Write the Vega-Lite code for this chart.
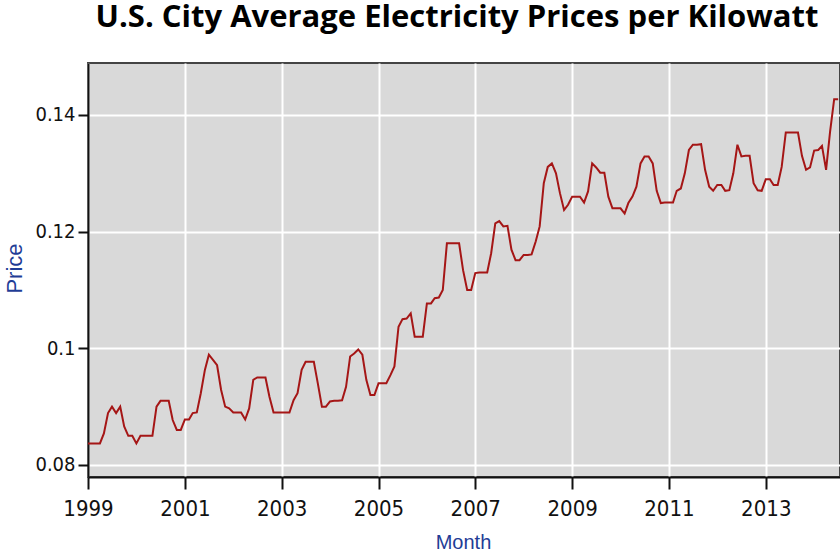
{
  "$schema": "https://vega.github.io/schema/vega-lite/v6.json",
  "autosize": {"type": "none"},
  "width": 752,
  "height": 414,
  "padding": {"left": 88, "top": 63, "right": 0, "bottom": 74},
  "background": "white",
  "title": {
    "text": "U.S. City Average Electricity Prices per Kilowatt",
    "font": "Open Sans",
    "fontSize": 31,
    "fontWeight": "bold",
    "color": "black",
    "anchor": "middle",
    "dx": -7,
    "baseline": "alphabetic",
    "offset": 35,
    "dy": 30
  },
  "config": {
    "view": {"fill": "#d9d9d9", "stroke": "#444444", "strokeWidth": 2},
    "axis": {
      "labelFont": "DejaVu Sans Condensed, sans-serif",
      "labelColor": "#111111",
      "titleFont": "Liberation Sans, sans-serif",
      "titleColor": "#1f3d96",
      "titleFontWeight": "normal",
      "domainColor": "#111111",
      "domainWidth": 2,
      "tickColor": "#111111",
      "tickWidth": 2,
      "gridColor": "#ffffff",
      "gridWidth": 2,
      "gridOpacity": 1
    }
  },
  "data": {
    "values": [
      {"Month": "1999-01-01", "Price": 0.0837}, {"Month": "1999-02-01", "Price": 0.0837}, {"Month": "1999-03-01", "Price": 0.0837}, {"Month": "1999-04-01", "Price": 0.0837},
      {"Month": "1999-05-01", "Price": 0.0854}, {"Month": "1999-06-01", "Price": 0.0889}, {"Month": "1999-07-01", "Price": 0.0900}, {"Month": "1999-08-01", "Price": 0.0889},
      {"Month": "1999-09-01", "Price": 0.0900}, {"Month": "1999-10-01", "Price": 0.0866}, {"Month": "1999-11-01", "Price": 0.0850}, {"Month": "1999-12-01", "Price": 0.0850},
      {"Month": "2000-01-01", "Price": 0.0837}, {"Month": "2000-02-01", "Price": 0.0850}, {"Month": "2000-03-01", "Price": 0.0850}, {"Month": "2000-04-01", "Price": 0.0850},
      {"Month": "2000-05-01", "Price": 0.0850}, {"Month": "2000-06-01", "Price": 0.0900}, {"Month": "2000-07-01", "Price": 0.0910}, {"Month": "2000-08-01", "Price": 0.0910},
      {"Month": "2000-09-01", "Price": 0.0910}, {"Month": "2000-10-01", "Price": 0.0877}, {"Month": "2000-11-01", "Price": 0.0860}, {"Month": "2000-12-01", "Price": 0.0860},
      {"Month": "2001-01-01", "Price": 0.0878}, {"Month": "2001-02-01", "Price": 0.0878}, {"Month": "2001-03-01", "Price": 0.0889}, {"Month": "2001-04-01", "Price": 0.0890},
      {"Month": "2001-05-01", "Price": 0.0923}, {"Month": "2001-06-01", "Price": 0.0963}, {"Month": "2001-07-01", "Price": 0.0989}, {"Month": "2001-08-01", "Price": 0.0980},
      {"Month": "2001-09-01", "Price": 0.0971}, {"Month": "2001-10-01", "Price": 0.0929}, {"Month": "2001-11-01", "Price": 0.0900}, {"Month": "2001-12-01", "Price": 0.0897},
      {"Month": "2002-01-01", "Price": 0.0890}, {"Month": "2002-02-01", "Price": 0.0890}, {"Month": "2002-03-01", "Price": 0.0890}, {"Month": "2002-04-01", "Price": 0.0878},
      {"Month": "2002-05-01", "Price": 0.0897}, {"Month": "2002-06-01", "Price": 0.0946}, {"Month": "2002-07-01", "Price": 0.0950}, {"Month": "2002-08-01", "Price": 0.0950},
      {"Month": "2002-09-01", "Price": 0.0950}, {"Month": "2002-10-01", "Price": 0.0917}, {"Month": "2002-11-01", "Price": 0.0890}, {"Month": "2002-12-01", "Price": 0.0890},
      {"Month": "2003-01-01", "Price": 0.0890}, {"Month": "2003-02-01", "Price": 0.0890}, {"Month": "2003-03-01", "Price": 0.0890}, {"Month": "2003-04-01", "Price": 0.0911},
      {"Month": "2003-05-01", "Price": 0.0923}, {"Month": "2003-06-01", "Price": 0.0963}, {"Month": "2003-07-01", "Price": 0.0977}, {"Month": "2003-08-01", "Price": 0.0977},
      {"Month": "2003-09-01", "Price": 0.0977}, {"Month": "2003-10-01", "Price": 0.0940}, {"Month": "2003-11-01", "Price": 0.0900}, {"Month": "2003-12-01", "Price": 0.0900},
      {"Month": "2004-01-01", "Price": 0.0909}, {"Month": "2004-02-01", "Price": 0.0910}, {"Month": "2004-03-01", "Price": 0.0910}, {"Month": "2004-04-01", "Price": 0.0911},
      {"Month": "2004-05-01", "Price": 0.0934}, {"Month": "2004-06-01", "Price": 0.0986}, {"Month": "2004-07-01", "Price": 0.0991}, {"Month": "2004-08-01", "Price": 0.0998},
      {"Month": "2004-09-01", "Price": 0.0989}, {"Month": "2004-10-01", "Price": 0.0946}, {"Month": "2004-11-01", "Price": 0.0920}, {"Month": "2004-12-01", "Price": 0.0920},
      {"Month": "2005-01-01", "Price": 0.0940}, {"Month": "2005-02-01", "Price": 0.0940}, {"Month": "2005-03-01", "Price": 0.0940}, {"Month": "2005-04-01", "Price": 0.0954},
      {"Month": "2005-05-01", "Price": 0.0969}, {"Month": "2005-06-01", "Price": 0.1037}, {"Month": "2005-07-01", "Price": 0.1050}, {"Month": "2005-08-01", "Price": 0.1051},
      {"Month": "2005-09-01", "Price": 0.1060}, {"Month": "2005-10-01", "Price": 0.1020}, {"Month": "2005-11-01", "Price": 0.1020}, {"Month": "2005-12-01", "Price": 0.1020},
      {"Month": "2006-01-01", "Price": 0.1077}, {"Month": "2006-02-01", "Price": 0.1077}, {"Month": "2006-03-01", "Price": 0.1086}, {"Month": "2006-04-01", "Price": 0.1087},
      {"Month": "2006-05-01", "Price": 0.1100}, {"Month": "2006-06-01", "Price": 0.1180}, {"Month": "2006-07-01", "Price": 0.1180}, {"Month": "2006-08-01", "Price": 0.1180},
      {"Month": "2006-09-01", "Price": 0.1180}, {"Month": "2006-10-01", "Price": 0.1134}, {"Month": "2006-11-01", "Price": 0.1100}, {"Month": "2006-12-01", "Price": 0.1100},
      {"Month": "2007-01-01", "Price": 0.1129}, {"Month": "2007-02-01", "Price": 0.1130}, {"Month": "2007-03-01", "Price": 0.1130}, {"Month": "2007-04-01", "Price": 0.1130},
      {"Month": "2007-05-01", "Price": 0.1163}, {"Month": "2007-06-01", "Price": 0.1214}, {"Month": "2007-07-01", "Price": 0.1218}, {"Month": "2007-08-01", "Price": 0.1209},
      {"Month": "2007-09-01", "Price": 0.1210}, {"Month": "2007-10-01", "Price": 0.1169}, {"Month": "2007-11-01", "Price": 0.1151}, {"Month": "2007-12-01", "Price": 0.1151},
      {"Month": "2008-01-01", "Price": 0.1160}, {"Month": "2008-02-01", "Price": 0.1160}, {"Month": "2008-03-01", "Price": 0.1161}, {"Month": "2008-04-01", "Price": 0.1183},
      {"Month": "2008-05-01", "Price": 0.1209}, {"Month": "2008-06-01", "Price": 0.1283}, {"Month": "2008-07-01", "Price": 0.1311}, {"Month": "2008-08-01", "Price": 0.1317},
      {"Month": "2008-09-01", "Price": 0.1300}, {"Month": "2008-10-01", "Price": 0.1266}, {"Month": "2008-11-01", "Price": 0.1237}, {"Month": "2008-12-01", "Price": 0.1246},
      {"Month": "2009-01-01", "Price": 0.1260}, {"Month": "2009-02-01", "Price": 0.1260}, {"Month": "2009-03-01", "Price": 0.1260}, {"Month": "2009-04-01", "Price": 0.1250},
      {"Month": "2009-05-01", "Price": 0.1269}, {"Month": "2009-06-01", "Price": 0.1317}, {"Month": "2009-07-01", "Price": 0.1310}, {"Month": "2009-08-01", "Price": 0.1301},
      {"Month": "2009-09-01", "Price": 0.1301}, {"Month": "2009-10-01", "Price": 0.1260}, {"Month": "2009-11-01", "Price": 0.1240}, {"Month": "2009-12-01", "Price": 0.1240},
      {"Month": "2010-01-01", "Price": 0.1240}, {"Month": "2010-02-01", "Price": 0.1231}, {"Month": "2010-03-01", "Price": 0.1249}, {"Month": "2010-04-01", "Price": 0.1260},
      {"Month": "2010-05-01", "Price": 0.1277}, {"Month": "2010-06-01", "Price": 0.1317}, {"Month": "2010-07-01", "Price": 0.1329}, {"Month": "2010-08-01", "Price": 0.1329},
      {"Month": "2010-09-01", "Price": 0.1317}, {"Month": "2010-10-01", "Price": 0.1270}, {"Month": "2010-11-01", "Price": 0.1249}, {"Month": "2010-12-01", "Price": 0.1250},
      {"Month": "2011-01-01", "Price": 0.1250}, {"Month": "2011-02-01", "Price": 0.1250}, {"Month": "2011-03-01", "Price": 0.1270}, {"Month": "2011-04-01", "Price": 0.1274},
      {"Month": "2011-05-01", "Price": 0.1300}, {"Month": "2011-06-01", "Price": 0.1340}, {"Month": "2011-07-01", "Price": 0.1349}, {"Month": "2011-08-01", "Price": 0.1349},
      {"Month": "2011-09-01", "Price": 0.1350}, {"Month": "2011-10-01", "Price": 0.1306}, {"Month": "2011-11-01", "Price": 0.1277}, {"Month": "2011-12-01", "Price": 0.1270},
      {"Month": "2012-01-01", "Price": 0.1280}, {"Month": "2012-02-01", "Price": 0.1280}, {"Month": "2012-03-01", "Price": 0.1270}, {"Month": "2012-04-01", "Price": 0.1271},
      {"Month": "2012-05-01", "Price": 0.1300}, {"Month": "2012-06-01", "Price": 0.1349}, {"Month": "2012-07-01", "Price": 0.1329}, {"Month": "2012-08-01", "Price": 0.1330},
      {"Month": "2012-09-01", "Price": 0.1330}, {"Month": "2012-10-01", "Price": 0.1283}, {"Month": "2012-11-01", "Price": 0.1271}, {"Month": "2012-12-01", "Price": 0.1270},
      {"Month": "2013-01-01", "Price": 0.1290}, {"Month": "2013-02-01", "Price": 0.1290}, {"Month": "2013-03-01", "Price": 0.1280}, {"Month": "2013-04-01", "Price": 0.1280},
      {"Month": "2013-05-01", "Price": 0.1311}, {"Month": "2013-06-01", "Price": 0.1370}, {"Month": "2013-07-01", "Price": 0.1370}, {"Month": "2013-08-01", "Price": 0.1370},
      {"Month": "2013-09-01", "Price": 0.1370}, {"Month": "2013-10-01", "Price": 0.1330}, {"Month": "2013-11-01", "Price": 0.1306}, {"Month": "2013-12-01", "Price": 0.1310},
      {"Month": "2014-01-01", "Price": 0.1339}, {"Month": "2014-02-01", "Price": 0.1340}, {"Month": "2014-03-01", "Price": 0.1347}, {"Month": "2014-04-01", "Price": 0.1306},
      {"Month": "2014-05-01", "Price": 0.1371}, {"Month": "2014-06-01", "Price": 0.1427}, {"Month": "2014-07-01", "Price": 0.1427}
    ]
  },
  "mark": {"type": "line", "color": "#a51616", "strokeWidth": 2, "clip": true},
  "encoding": {
    "x": {
      "field": "Month",
      "type": "temporal",
      "scale": {
        "type": "utc",
        "domain": [{"year": 1999, "month": 1, "date": 1, "utc": true}, {"year": 2014, "month": 7, "date": 15, "utc": true}]
      },
      "axis": {
        "values": [
          {"year": 1999, "month": 1, "date": 1, "utc": true}, {"year": 2001, "month": 1, "date": 1, "utc": true},
          {"year": 2003, "month": 1, "date": 1, "utc": true}, {"year": 2005, "month": 1, "date": 1, "utc": true},
          {"year": 2007, "month": 1, "date": 1, "utc": true}, {"year": 2009, "month": 1, "date": 1, "utc": true},
          {"year": 2011, "month": 1, "date": 1, "utc": true}, {"year": 2013, "month": 1, "date": 1, "utc": true}
        ],
        "format": "%Y",
        "labelFontSize": 22,
        "labelBaseline": "alphabetic",
        "tickSize": 12,
        "labelPadding": 26,
        "labelFlush": false,
        "labelOverlap": false,
        "title": "Month",
        "titleFontSize": 20,
        "titleBaseline": "alphabetic",
        "titleX": 375,
        "titleY": 71
      }
    },
    "y": {
      "field": "Price",
      "type": "quantitative",
      "scale": {"domain": [0.07794, 0.14891], "nice": false, "zero": false},
      "axis": {
        "values": [0.08, 0.1, 0.12, 0.14],
        "format": "~g",
        "labelFontSize": 20,
        "labelPadding": 3,
        "tickSize": 10,
        "title": "Price",
        "titleFontSize": 22,
        "titleX": -62,
        "titleY": 205,
        "titleBaseline": "bottom"
      }
    }
  }
}
